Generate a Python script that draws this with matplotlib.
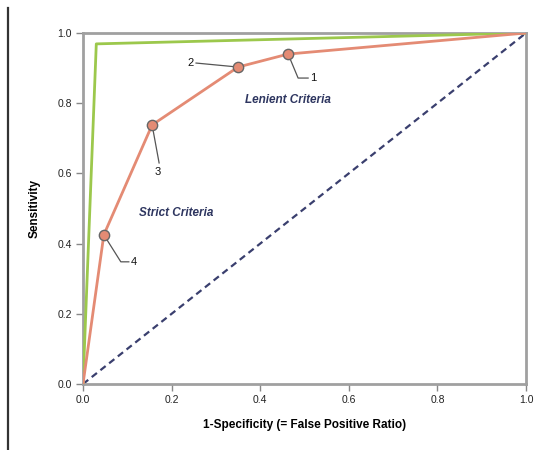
import matplotlib
matplotlib.use("Agg")
import matplotlib.pyplot as plt
from matplotlib.lines import Line2D

plt.rcParams['font.family'] = ['Liberation Sans', 'DejaVu Sans']

# Data
lenient_x = [0.0, 0.047, 0.156, 0.350, 0.463, 1.0]
lenient_y = [0.0, 0.425, 0.738, 0.903, 0.940, 1.0]
point_x = [0.463, 0.350, 0.156, 0.047]
point_y = [0.940, 0.903, 0.738, 0.425]
point_labels = ["1", "2", "3", "4"]
strict_x = [0.0, 0.03, 1.0]
strict_y = [0.0, 0.969, 1.0]
diag_x = [0.0, 1.0]
diag_y = [0.0, 1.0]
xticks = [0.0, 0.2, 0.4, 0.6, 0.8, 1.0]
yticks = [0.0, 0.2, 0.4, 0.6, 0.8, 1.0]

W, H = 545, 450
fig = plt.figure(figsize=(W/100, H/100), dpi=100)
ax = fig.add_axes([83/W, 1-384/H, (526-83)/W, (384-33)/H])

ax.plot(diag_x, diag_y, ls=(0, (3, 2)), color='#3a3f6e', lw=1.6, zorder=2)
ax.plot(strict_x, strict_y, color='#9cc84c', lw=2.0, zorder=3)
ax.plot(lenient_x, lenient_y, color='#e48b74', lw=2.0, zorder=4)
ax.scatter(point_x, point_y, s=55, facecolor='#e48b74', edgecolor='#666666', linewidth=1.0, zorder=6)

ax.set_xlim(0, 1)
ax.set_ylim(0, 1)
ax.set_xticks(xticks)
ax.set_yticks(yticks)
ax.set_xticklabels([f"{v:.1f}" for v in xticks])
ax.set_yticklabels([f"{v:.1f}" for v in yticks])
for s in ax.spines.values():
    s.set_color('#a0a0a0')
    s.set_linewidth(2)
ax.tick_params(direction='out', length=5, width=1, color='#888888', labelsize=7.5, labelcolor='#222222', pad=3)
ax.set_xlabel('1-Specificity (= False Positive Ratio)', fontsize=8.5, fontweight='bold', labelpad=10)
ax.set_ylabel('Sensitivity', fontsize=8.5, fontweight='bold', labelpad=12)

ax.text(0.463, 0.81, 'Lenient Criteria', fontsize=8.5, fontweight='bold', style='italic',
        color='#2e3660', ha='center', va='center')
ax.text(0.21, 0.488, 'Strict Criteria', fontsize=8.5, fontweight='bold', style='italic',
        color='#2e3660', ha='center', va='center')

# Leader lines (pixel offsets from points)
inv = ax.transData.inverted()
leaders = {
    "1": ([(0, 0), (10, -24), (20, -24)], (22, -24), 'left'),
    "2": ([(0, 0), (-42, 4)], (-47, 4), 'center'),
    "3": ([(0, 0), (7, -38)], (6, -47), 'center'),
    "4": ([(0, 0), (17, -27), (25, -27)], (27, -27), 'left'),
}
for px, py, lab in zip(point_x, point_y, point_labels):
    d = ax.transData.transform((px, py))
    offs, toff, ha = leaders[lab]
    pts = [inv.transform((d[0] + ox, d[1] + oy)) for ox, oy in offs]
    ax.add_line(Line2D([p[0] for p in pts], [p[1] for p in pts], color='#555555', lw=0.9,
                       zorder=5, clip_on=False))
    tp = inv.transform((d[0] + toff[0], d[1] + toff[1]))
    ax.text(tp[0], tp[1], lab, fontsize=8, color='#111111', ha=ha, va='center', zorder=7)

# page border line on left
fig.add_artist(Line2D([8/W, 8/W], [0, 1 - 8/H], transform=fig.transFigure, color='#333333', lw=1.6))

fig.savefig('out.png', dpi=100)
